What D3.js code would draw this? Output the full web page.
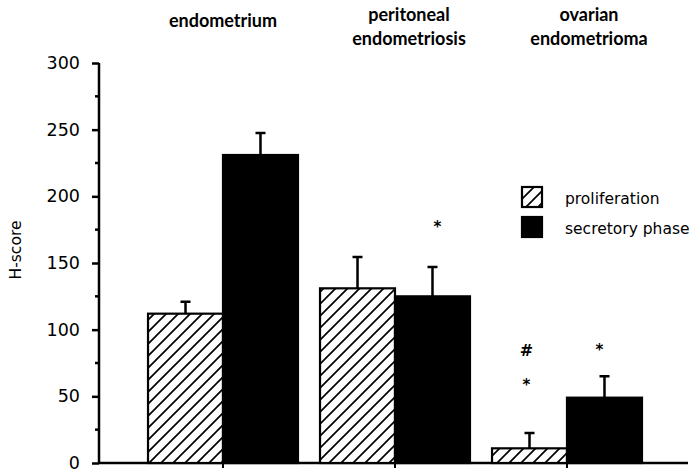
<!DOCTYPE html>
<html><head><meta charset="utf-8">
<script src="https://cdn.jsdelivr.net/npm/d3@7"></script>
<style>body{margin:0;background:#fff}svg{display:block}</style>
</head><body>
<svg id="c" width="700" height="474"></svg>
<script>
const categories = [["endometrium"], ["peritoneal", "endometriosis"], ["ovarian", "endometrioma"]];
const series = ["proliferation", "secretory phase"];
const proliferation = [112, 131, 11];
const proliferationErr = [121, 154.5, 22.5];
const secretory = [231, 125, 49];
const secretoryErr = [247.5, 147, 65];
// annotations: [categoryIndex, seriesIndex, symbol, value at symbol centre]
const annotations = [[1, 1, "*", 180], [2, 0, "#", 85], [2, 0, "*", 61.5], [2, 1, "*", 88]];
const yTicks = [0, 50, 100, 150, 200, 250, 300];
const yMinor = [25, 75, 125, 175, 225, 275];

// layout constants
const labelShift = [0, 14, 22];
const annotShift = [5, -3, -3, -5];

const svg = d3.select("#c");
const AX = 99;
const y = d3.scaleLinear().domain([0, 300]).range([463, 63]);
const x0 = d3.scaleBand().domain(d3.range(categories.length)).range([137, 653]);
const x1 = d3.scaleBand().domain(d3.range(series.length)).range([0, x0.bandwidth()]).paddingOuter(0.147).paddingInner(0);
const cx = (c) => x0(c) + x0.bandwidth() / 2;

const defs = svg.append("defs");
const pat = defs.append("pattern").attr("id", "hatch").attr("patternUnits", "userSpaceOnUse")
  .attr("width", 12).attr("height", 12);
pat.append("rect").attr("width", 12).attr("height", 12).attr("fill", "#fff");
pat.append("path").attr("d", "M-3,3 L3,-3 M0,12 L12,0 M9,15 L15,9").attr("stroke", "#000").attr("stroke-width", 1.7);

const font = "'DejaVu Sans', sans-serif";
const catFont = "Lato, sans-serif";

// axis
const yAxis = d3.axisLeft(y).tickValues(yTicks).tickSize(7).tickPadding(12);
const gy = svg.append("g").attr("transform", `translate(${AX},0)`).call(yAxis);
gy.select(".domain").attr("stroke-width", 2.5).attr("d", `M0,${y(300)}V${y(0)}`);
gy.selectAll(".tick line").attr("stroke-width", 2.5);
gy.selectAll(".tick text").attr("font-family", font).attr("font-size", 17.5).attr("fill", "#000");
svg.append("g").attr("transform", `translate(${AX},0)`).selectAll("line").data(yMinor).join("line")
  .attr("x1", -4).attr("x2", 0).attr("y1", d => y(d)).attr("y2", d => y(d)).attr("stroke", "#000").attr("stroke-width", 2.5);

// baseline
svg.append("line").attr("x1", AX).attr("x2", 688).attr("y1", y(0)).attr("y2", y(0)).attr("stroke", "#000").attr("stroke-width", 2.5);
svg.append("g").selectAll("line").data(d3.range(categories.length)).join("line")
  .attr("x1", d => cx(d)).attr("x2", d => cx(d)).attr("y1", y(0)).attr("y2", y(0) + 5).attr("stroke", "#000").attr("stroke-width", 2);

svg.append("text").attr("transform", `translate(21,250) rotate(-90)`).attr("text-anchor", "middle")
  .attr("font-family", font).attr("font-size", 15.5).text("H-score");

// bars
const vals = [proliferation, secretory];
const errs = [proliferationErr, secretoryErr];
const fills = ["url(#hatch)", "#000"];
const bars = [];
categories.forEach((c, ci) => series.forEach((s, si) => bars.push({ci, si, v: vals[si][ci], e: errs[si][ci]})));
const g = svg.append("g");
g.selectAll("path.err").data(bars).join("path").attr("class", "err")
  .attr("d", d => { const xm = x0(d.ci) + x1(d.si) + x1.bandwidth() / 2; return `M${xm},${y(d.v)}V${y(d.e)}M${xm - 5},${y(d.e)}H${xm + 5}`; })
  .attr("stroke", "#000").attr("stroke-width", 2.5).attr("fill", "none");
g.selectAll("rect.bar").data(bars).join("rect").attr("class", "bar")
  .attr("x", d => x0(d.ci) + x1(d.si)).attr("width", x1.bandwidth())
  .attr("y", d => y(d.v)).attr("height", d => y(0) - y(d.v))
  .attr("fill", d => fills[d.si]).attr("stroke", "#000").attr("stroke-width", 2.2);

// annotations
svg.append("g").selectAll("text").data(annotations).join("text")
  .attr("x", (d, i) => x0(d[0]) + x1(d[1]) + x1.bandwidth() / 2 + annotShift[i])
  .attr("y", d => y(d[3]) + (d[2] === "#" ? 6 : 9))
  .attr("text-anchor", "middle").attr("font-family", font).attr("font-weight", "bold")
  .attr("font-size", d => d[2] === "#" ? 16 : 15).text(d => d[2]);

// category labels
const cl = svg.append("g").selectAll("text").data(categories).join("text")
  .attr("text-anchor", "middle").attr("font-family", catFont).attr("font-weight", "bold").attr("font-size", 18)
  .attr("x", (d, i) => cx(i) + labelShift[i]).attr("y", d => d.length === 1 ? 27 : 21);
cl.selectAll("tspan").data(d => d).join("tspan").attr("x", function () { return this.parentNode.getAttribute("x"); })
  .attr("dy", (d, i) => i === 0 ? 0 : 24).text(d => d);

// legend
const lg = svg.append("g").attr("transform", "translate(522,187)");
series.forEach((s, i) => {
  const r = lg.append("g").attr("transform", `translate(0,${i * 30})`);
  r.append("rect").attr("width", 20).attr("height", 20).attr("fill", fills[i]).attr("stroke", "#000").attr("stroke-width", 2.2);
  r.append("text").attr("x", 43).attr("y", 17).attr("font-family", font).attr("font-size", 15.5).text(s);
});
</script>
</body></html>
